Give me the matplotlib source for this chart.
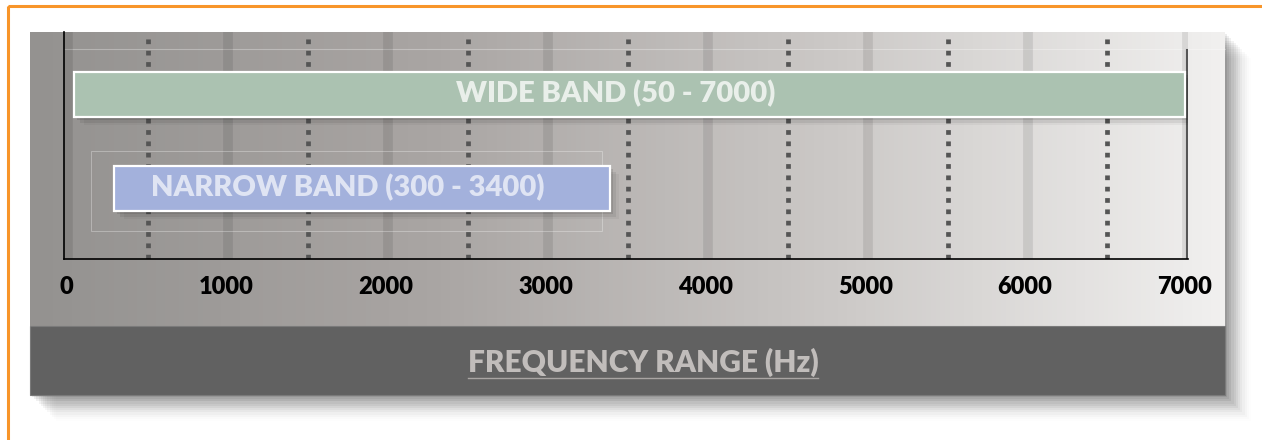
import numpy as np
import matplotlib
matplotlib.use("Agg")
import matplotlib.pyplot as plt
from matplotlib.patches import Rectangle
from matplotlib.colors import LinearSegmentedColormap

plt.rcParams['font.family'] = ['Lato', 'DejaVu Sans']

# ===== Data =====
bands = ["NARROW BAND", "WIDE BAND"]
band_low = [300, 50]
band_high = [3400, 7000]
band_colors = ["#a3b1dc", "#abc2b1"]
text_colors = ["#dfe4f3", "#e9efea"]
xticks = [0, 1000, 2000, 3000, 4000, 5000, 6000, 7000]
half_ticks = [500, 1500, 2500, 3500, 4500, 5500, 6500]
xlabel = "FREQUENCY RANGE (Hz)"

W, H = 1262, 440
fig = plt.figure(figsize=(W / 100, H / 100), dpi=100)

# ===== Background layer in pixel coordinates =====
bg = fig.add_axes([0, 0, 1, 1], zorder=0)
bg.set_xlim(0, W)
bg.set_ylim(H, 0)
bg.axis("off")

# drop shadow of the panel
for i, a in enumerate(np.linspace(0.10, 0.01, 12)):
    d = 2 + i * 2.2
    bg.add_patch(Rectangle((30 + d, 32 + d), 1195, 363, facecolor="black",
                           edgecolor="none", alpha=a * 0.7, zorder=1))

# gradient panel
grad = LinearSegmentedColormap.from_list("g", ["#949290", "#a9a5a3", "#cbc8c6", "#f1f0ef"])
bg.imshow(np.linspace(0, 1, 256)[None, :], cmap=grad, aspect="auto",
          extent=(30, 1225, 326, 32), zorder=2)
bg.set_xlim(0, W)
bg.set_ylim(H, 0)

# faint top line
bg.plot([64, 1225], [49, 49], color="white", alpha=0.3, lw=0.8, zorder=3)

# dark title band
bg.add_patch(Rectangle((30, 326), 1195, 69, facecolor="#616161",
                       edgecolor="#7a7a7a", lw=0.8, zorder=3))

# orange frame
bg.add_patch(Rectangle((8, 6), 1300, 500, facecolor="none",
                       edgecolor="#f8952a", lw=2.2, zorder=4))

# ===== Main axes =====
px_per_hz = (1185 - 66) / 7000
x_left = -(66 - 64) / px_per_hz
x_right = (1188 - 66) / px_per_hz
ax = fig.add_axes([64 / W, (H - 259) / H, (1188 - 64) / W, (259 - 32) / H], zorder=1)
ax.patch.set_alpha(0)
ax.set_xlim(x_left, x_right)
ax.set_ylim(-0.75, 1.665)

# solid stripes and dotted half lines
for t in xticks:
    ax.axvline(t + 15, color="black", alpha=0.09, lw=7, zorder=1)
for t in half_ticks:
    ax.axvline(t + 15, ymin=0, ymax=0.985, color="#555555", lw=3.4,
               linestyle=(0, (1, 1.4)), zorder=2)

# right dark edge
ax.axvline(7000 + 10, ymin=0, ymax=(259 - 50) / 227, color="#555555", lw=1.5, zorder=2)

ypos = np.arange(len(bands))
bar_h = 45 / 94
for y, lo, hi, c, tc, name in zip(ypos, band_low, band_high, band_colors, text_colors, bands):
    # soft shadow
    for k, a in enumerate([0.10, 0.07, 0.04]):
        ax.barh(y - 0.03 * (k + 1), hi - lo, left=lo + 20 * (k + 1), height=bar_h,
                color="black", alpha=a, zorder=3, linewidth=0)
    ax.barh(y, hi - lo, left=lo, height=bar_h, color=c, edgecolor="white",
            linewidth=1.6, zorder=4)
    ax.annotate(f"{name} ({lo} - {hi})", xy=((lo + hi) / 2, y), xytext=(-10, 1),
                textcoords="offset points", ha="center", va="center",
                fontsize=21, fontweight="heavy", color=tc, zorder=5)

# faint frame around the narrow band
ax.add_patch(Rectangle((band_low[0] - 145, -0.21 - bar_h / 2), 3400 - 300 + 100,
                       0.85, facecolor="none", edgecolor="white", alpha=0.35, lw=0.6, zorder=2))

ax.set_yticks([])
ax.set_xticks(xticks)
ax.set_xticklabels([str(t) for t in xticks], fontsize=17, fontweight="heavy", color="black")
ax.tick_params(axis="x", length=0, pad=12)
ax.spines["top"].set_visible(False)
ax.spines["right"].set_visible(False)
ax.spines["left"].set_linewidth(1.2)
ax.spines["bottom"].set_linewidth(1.2)

# ===== Title in dark band with underline =====
txt = fig.text(643 / W, 1 - 362 / H, xlabel, ha="center", va="center",
               fontsize=21.5, fontweight="heavy", color="#c1bdbb", zorder=6)
fig.canvas.draw()
bb = txt.get_window_extent()
bg.plot([bb.x0, bb.x1], [H - bb.y0 + 1, H - bb.y0 + 1], color="#a9a5a3", lw=1.0, zorder=6)

fig.savefig("out.png", dpi=100)
